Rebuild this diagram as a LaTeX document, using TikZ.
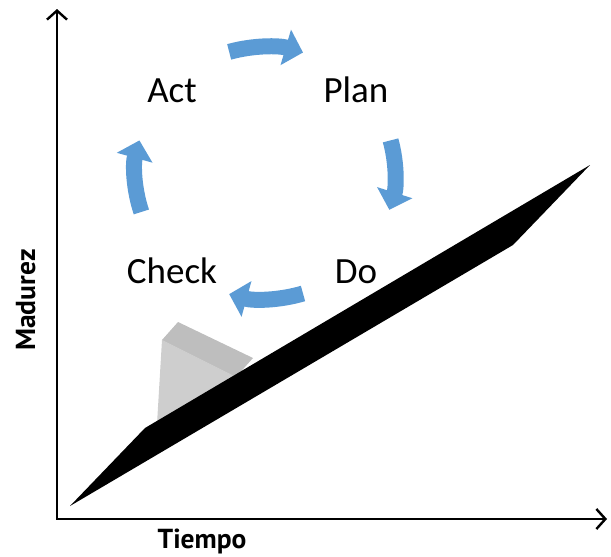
\documentclass[tikz,border=0pt]{standalone}
\usepackage{fontspec}
\setmainfont{Carlito}
\newfontfamily\labelfont{PT Sans}
\usetikzlibrary{arrows.meta}
\definecolor{cycleblue}{RGB}{91,155,213}
\definecolor{wedgetop}{RGB}{190,190,190}
\definecolor{wedgefront}{RGB}{206,206,206}
\tikzset{
  axis/.style={line width=2.4pt, {Straight Barb[length=9pt,width=20pt,line width=2.4pt]}-{Straight Barb[length=9pt,width=20pt,line width=2.4pt]}, line join=miter},
  phase/.style={font=\fontsize{37}{40}\selectfont, inner sep=0pt, anchor=base},
  axislabel/.style={font=\labelfont\bfseries\fontsize{27.5}{30}\selectfont, inner sep=0pt, anchor=base},
  cyclearrow/.style={draw=cycleblue, line width=16pt, -{Triangle[length=18pt,width=36pt]}}
}
\begin{document}
\begin{tikzpicture}[x=1pt,y=-1pt]
  \useasboundingbox (0,0) rectangle (611,557);

  % axes
  \coordinate (ytop) at (57,9);
  \coordinate (origin) at (57,519);
  \coordinate (xend) at (607,519);
  \draw[axis] (ytop) -- (origin) -- (xend);
  \node[axislabel, rotate=90] (ylab) at (35,300) {Madurez};
  \node[axislabel] (xlab) at (202,548) {Tiempo};

  % wedge resting on the ramp
  \fill[wedgefront] (162,340) -- (157,424) -- (236,377) -- cycle;
  \fill[wedgetop] (162,340) -- (178,322) -- (253,358) -- (236,377) -- cycle;

  % ramp
  \fill[black] (70,506) -- (145,428) -- (590,165) -- (513,245) -- cycle;

  % PDCA labels
  \node[phase] (act) at (172,102) {Act};
  \node[phase] (plan) at (356,102) {Plan};
  \node[phase] (check) at (172,283) {Check};
  \node[phase] (do) at (356,283) {Do};

  % cycle arrows around the hub
  \coordinate (hub) at (265,173);
  \draw[cyclearrow] ([shift={(-106:130 and 126)}]hub) arc[start angle=-106, end angle=-73, x radius=130, y radius=126];
  \draw[cyclearrow] ([shift={(-15:130 and 126)}]hub) arc[start angle=-15, end angle=17, x radius=130, y radius=126];
  \draw[cyclearrow] ([shift={(73:130 and 126)}]hub) arc[start angle=73, end angle=106, x radius=130, y radius=126];
  \draw[cyclearrow] ([shift={(162:130 and 126)}]hub) arc[start angle=162, end angle=195, x radius=130, y radius=126];
\end{tikzpicture}
\end{document}
